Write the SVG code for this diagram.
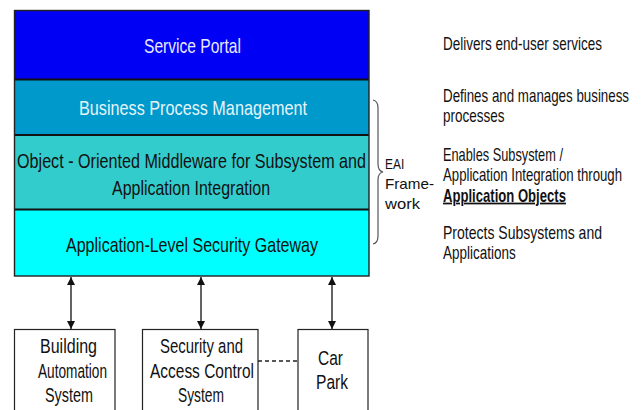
<svg xmlns="http://www.w3.org/2000/svg" width="641" height="410" viewBox="0 0 641 410">
  <defs>
    <marker id="arrowhead" viewBox="0 0 10 10" refX="10" refY="5" markerWidth="9" markerHeight="8" markerUnits="userSpaceOnUse" orient="auto-start-reverse">
      <path d="M0,0 L10,5 L0,10 Z" fill="#111"/>
    </marker>
    <style>
      text { font-family: "Liberation Sans", Arial, sans-serif; }
      .layer-label { font-size: 21px; text-anchor: middle; }
      .note { font-size: 17.5px; fill: #111; }
      .sys-label { font-size: 19.5px; text-anchor: middle; fill: #111; }
      .brace-label { font-size: 15px; fill: #111; }
      .sys-box { fill: #fff; stroke: #222; stroke-width: 1.2; }
      .divider { stroke: #111; stroke-width: 2.2; }
      .link { stroke: #222; stroke-width: 1.4; fill: none; }
    </style>
  </defs>
  <rect width="641" height="410" fill="#fff"/>

  <!-- Layered platform stack (labels set in a narrowed face) -->
  <g id="service-portal">
    <rect x="14.5" y="10.5" width="354.5" height="69" fill="#0000F5"/>
    <text class="layer-label" transform="translate(192.5 52.5) scale(0.75 1)" textLength="129.3" lengthAdjust="spacingAndGlyphs" fill="#E8E8FF">Service Portal</text>
  </g>
  <g id="business-process-management">
    <rect x="14.5" y="79.5" width="354.5" height="55.5" fill="#0099CC"/>
    <text class="layer-label" transform="translate(193 114.5) scale(0.75 1)" textLength="304" lengthAdjust="spacingAndGlyphs" fill="#E6F4F8">Business Process Management</text>
  </g>
  <g id="object-middleware">
    <rect x="14.5" y="135" width="354.5" height="74.5" fill="#33CCCC"/>
    <text class="layer-label" transform="translate(191.5 168) scale(0.75 1)" textLength="465.3" lengthAdjust="spacingAndGlyphs" fill="#111">Object - Oriented Middleware for Subsystem and</text>
    <text class="layer-label" transform="translate(191 195) scale(0.75 1)" textLength="210.7" lengthAdjust="spacingAndGlyphs" fill="#111">Application Integration</text>
  </g>
  <g id="security-gateway">
    <rect x="14.5" y="209.5" width="354.5" height="66.5" fill="#00FFFF"/>
    <text class="layer-label" transform="translate(192 252) scale(0.75 1)" textLength="336" lengthAdjust="spacingAndGlyphs" fill="#111">Application-Level Security Gateway</text>
  </g>
  <g id="stack-frame">
    <line class="divider" x1="14.5" y1="79.5" x2="369" y2="79.5"/>
    <line class="divider" x1="14.5" y1="135" x2="369" y2="135"/>
    <line class="divider" x1="14.5" y1="209.5" x2="369" y2="209.5"/>
    <rect x="14.5" y="10.5" width="354.5" height="265.5" fill="none" stroke="#222" stroke-width="1.4"/>
  </g>

  <!-- EAI framework brace -->
  <g id="eai-framework">
    <path d="M373,100 Q378,101 378,108 L378,164 Q378,171 383,172 Q378,173 378,180 L378,236 Q378,243 373,244" fill="none" stroke="#555" stroke-width="1.2"/>
    <text class="brace-label" transform="translate(385 169) scale(0.8 1)" textLength="24" lengthAdjust="spacingAndGlyphs">EAI</text>
    <text class="brace-label" x="385" y="189" textLength="49" lengthAdjust="spacingAndGlyphs">Frame-</text>
    <text class="brace-label" x="385" y="209" textLength="35" lengthAdjust="spacingAndGlyphs">work</text>
  </g>

  <!-- Layer descriptions -->
  <g id="descriptions">
    <text class="note" transform="translate(443 49.5) scale(0.77 1)" textLength="206.5" lengthAdjust="spacingAndGlyphs">Delivers end-user services</text>
    <text class="note" transform="translate(443 101.5) scale(0.77 1)" textLength="241.6" lengthAdjust="spacingAndGlyphs">Defines and manages business</text>
    <text class="note" transform="translate(443 121.5) scale(0.77 1)">processes</text>
    <text class="note" transform="translate(443 161) scale(0.77 1)" textLength="155.8" lengthAdjust="spacingAndGlyphs">Enables Subsystem /</text>
    <text class="note" transform="translate(443 181) scale(0.77 1)" textLength="232.5" lengthAdjust="spacingAndGlyphs">Application Integration through</text>
    <text class="note" transform="translate(443 201.5) scale(0.77 1)" textLength="159.7" lengthAdjust="spacingAndGlyphs" font-weight="bold" text-decoration="underline">Application Objects</text>
    <text class="note" transform="translate(443 239) scale(0.77 1)" textLength="206.5" lengthAdjust="spacingAndGlyphs">Protects Subsystems and</text>
    <text class="note" transform="translate(443 259) scale(0.77 1)">Applications</text>
  </g>

  <!-- Connected subsystems -->
  <g id="building-automation">
    <rect class="sys-box" x="14.5" y="329.5" width="100.5" height="90"/>
    <text class="sys-label" transform="translate(68.5 353) scale(0.78 1)" textLength="73.1" lengthAdjust="spacingAndGlyphs">Building</text>
    <text class="sys-label" transform="translate(72.5 377.5) scale(0.78 1)" textLength="88.5" lengthAdjust="spacingAndGlyphs">Automation</text>
    <text class="sys-label" transform="translate(69 402) scale(0.78 1)" textLength="61.5" lengthAdjust="spacingAndGlyphs">System</text>
  </g>
  <g id="security-access-control">
    <rect class="sys-box" x="142.5" y="329.5" width="115.5" height="90"/>
    <text class="sys-label" transform="translate(201.5 353) scale(0.78 1)" textLength="106.4" lengthAdjust="spacingAndGlyphs">Security and</text>
    <text class="sys-label" transform="translate(202 377.5) scale(0.78 1)" textLength="133.3" lengthAdjust="spacingAndGlyphs">Access Control</text>
    <text class="sys-label" transform="translate(201 402) scale(0.78 1)" textLength="59" lengthAdjust="spacingAndGlyphs">System</text>
  </g>
  <g id="car-park">
    <rect class="sys-box" x="298" y="329.5" width="70" height="90"/>
    <text class="sys-label" transform="translate(330.5 365) scale(0.78 1)" textLength="32" lengthAdjust="spacingAndGlyphs">Car</text>
    <text class="sys-label" transform="translate(332 389) scale(0.78 1)" textLength="41" lengthAdjust="spacingAndGlyphs">Park</text>
  </g>

  <!-- Connectors -->
  <g id="connectors">
    <line class="link" x1="71" y1="277" x2="71" y2="329" marker-start="url(#arrowhead)" marker-end="url(#arrowhead)"/>
    <line class="link" x1="201" y1="277" x2="201" y2="329" marker-start="url(#arrowhead)" marker-end="url(#arrowhead)"/>
    <line class="link" x1="332" y1="277" x2="332" y2="329" marker-start="url(#arrowhead)" marker-end="url(#arrowhead)"/>
    <line class="link" x1="258" y1="361" x2="298" y2="361" stroke-dasharray="4,3"/>
  </g>
</svg>
